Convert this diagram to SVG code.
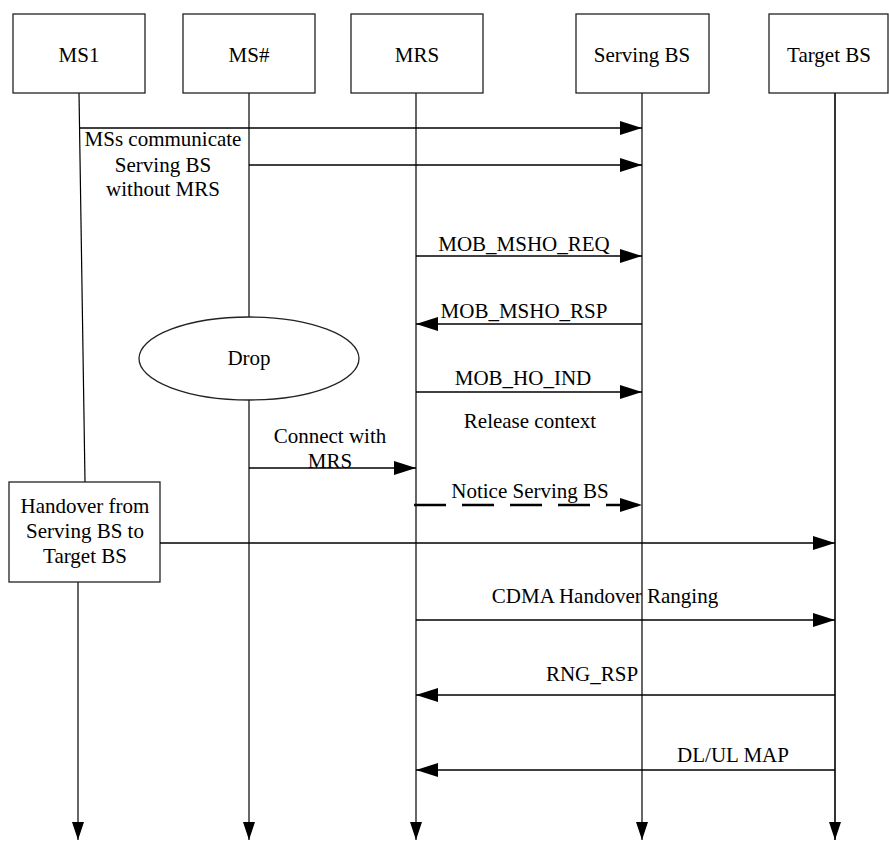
<svg xmlns="http://www.w3.org/2000/svg" width="889" height="841" viewBox="0 0 889 841">
<style>
.box{fill:#fff;stroke:#222;stroke-width:1.3}
.ll{fill:none;stroke:#000;stroke-width:1.2}
.msg{fill:none;stroke:#000;stroke-width:1.3}
.t{font-family:"Liberation Serif","Times New Roman",serif;font-size:21px;fill:#000;text-anchor:middle}
</style>
<defs>
<marker id="ah" markerUnits="userSpaceOnUse" markerWidth="22" markerHeight="14" refX="22" refY="7" orient="auto">
<path d="M0,0 L22,7 L0,14 z" fill="#000"/>
</marker>
<marker id="dn" markerUnits="userSpaceOnUse" markerWidth="18" markerHeight="12" refX="18" refY="6" orient="auto">
<path d="M0,0 L18,6 L0,12 z" fill="#000"/>
</marker>
</defs>
<rect width="889" height="841" fill="#fff"/>
<g id="lifelines">
<path class="ll" d="M79,93 L85,482"/>
<path class="ll" d="M78,582 L78,840" marker-end="url(#dn)"/>
<path class="ll" d="M249,93 L249,317"/>
<path class="ll" d="M249,400 L249,840" marker-end="url(#dn)"/>
<path class="ll" d="M416,93 L416,840" marker-end="url(#dn)"/>
<path class="ll" d="M642,93 L642,840" marker-end="url(#dn)"/>
<path class="ll" style="stroke-width:1.6" d="M835,93 L835,840" marker-end="url(#dn)"/>
</g>
<g id="node-ms1"><rect class="box" x="13" y="14" width="132" height="79"/><text class="t" x="79" y="62">MS1</text></g>
<g id="node-msx"><rect class="box" x="183" y="14" width="132" height="79"/><text class="t" x="249" y="62">MS#</text></g>
<g id="node-mrs"><rect class="box" x="351" y="14" width="132" height="79"/><text class="t" x="417" y="62">MRS</text></g>
<g id="node-serving"><rect class="box" x="576" y="14" width="133" height="79"/><text class="t" x="642" y="62">Serving BS</text></g>
<g id="node-target"><rect class="box" x="769" y="14" width="119" height="79"/><text class="t" x="829" y="62">Target BS</text></g>
<g id="node-drop"><ellipse class="box" cx="249" cy="358.5" rx="110" ry="41.5"/><text class="t" x="249" y="365">Drop</text></g>
<g id="node-handover"><rect class="box" x="9" y="482" width="151" height="100"/>
<text class="t" x="85" y="513">Handover from</text>
<text class="t" x="85" y="538">Serving BS to</text>
<text class="t" x="85" y="563">Target BS</text></g>
<g id="connectors">
<path class="msg" d="M79,128 L642,128" marker-end="url(#ah)"/>
<path class="msg" d="M249,165 L642,165" marker-end="url(#ah)"/>
<path class="msg" d="M416,256 L642,256" marker-end="url(#ah)"/>
<path class="msg" d="M642,324 L416,324" marker-end="url(#ah)"/>
<path class="msg" d="M416,392 L642,392" marker-end="url(#ah)"/>
<path class="msg" d="M249,468 L416,468" marker-end="url(#ah)"/>
<path class="msg" style="stroke-width:2.5;stroke-dasharray:32 16" d="M414,505 L642,505" marker-end="url(#ah)"/>
<path class="msg" style="stroke-width:1.6" d="M160,543 L835,543" marker-end="url(#ah)"/>
<path class="msg" style="stroke-width:1.6" d="M416,620 L835,620" marker-end="url(#ah)"/>
<path class="msg" d="M835,695 L416,695" marker-end="url(#ah)"/>
<path class="msg" d="M835,770 L416,770" marker-end="url(#ah)"/>
</g>
<g id="labels">
<text class="t" x="163" y="146">MSs communicate</text>
<text class="t" x="163" y="172">Serving BS</text>
<text class="t" x="163" y="196">without MRS</text>
<text class="t" x="524" y="251">MOB_MSHO_REQ</text>
<text class="t" x="524" y="318">MOB_MSHO_RSP</text>
<text class="t" x="523" y="385">MOB_HO_IND</text>
<text class="t" x="530" y="428">Release context</text>
<text class="t" x="330" y="443">Connect with</text>
<text class="t" x="330" y="468">MRS</text>
<text class="t" x="530" y="498">Notice Serving BS</text>
<text class="t" x="605" y="603">CDMA Handover Ranging</text>
<text class="t" x="592" y="681">RNG_RSP</text>
<text class="t" x="733" y="762">DL/UL MAP</text>
</g>
</svg>
